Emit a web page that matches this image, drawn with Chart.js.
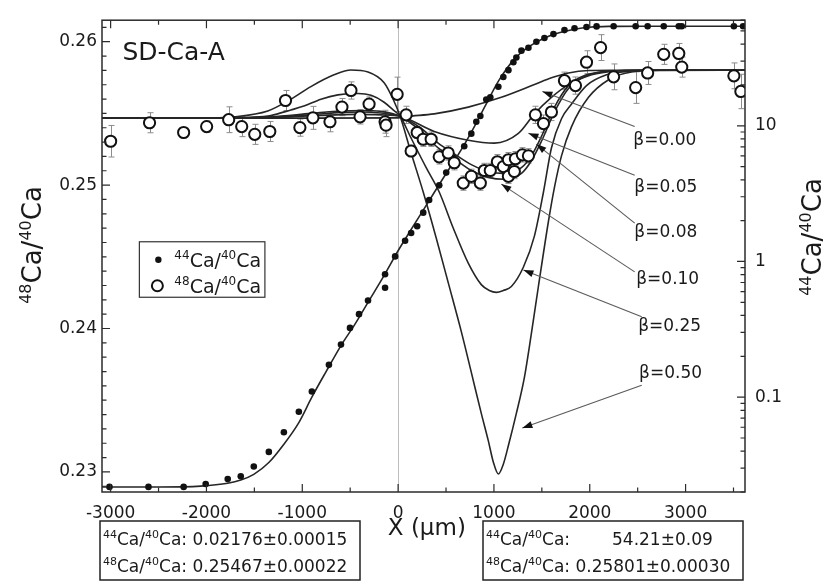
<!DOCTYPE html>
<html>
<head>
<meta charset="utf-8">
<script src="https://cdn.jsdelivr.net/npm/chart.js@4.4.0/dist/chart.umd.min.js"></script>
<style>
  html, body { margin: 0; padding: 0; background: #fff; }
  canvas { display: block; }
</style>
</head>
<body>
<canvas id="c" width="833" height="581"></canvas>
<script>
// tick labels
const xTicks = [-3000, -2000, -1000, 0, 1000, 2000, 3000];
const leftTicks = [0.23, 0.24, 0.25, 0.26];
const rightTicks = [0.1, 1, 10];

// 48Ca/40Ca measurements (open circles, left axis)
const ca48X = [-3000, -2594, -2238, -1998, -1768, -1632, -1496, -1339, -1175, -1025,
  -889, -711, -586, -492, -397, -303, -136, -126, -10, 84,
  136, 199, 262, 345, 429, 523, 586, 680, 764, 858,
  900, 962, 1036, 1098, 1151, 1151, 1213, 1224, 1297, 1360,
  1433, 1517, 1600, 1736, 1851, 1966, 2113, 2249, 2479, 2604,
  2772, 2929, 2960, 3504, 3577];
const ca48Y = [0.25306, 0.25435, 0.25367, 0.25408, 0.25456, 0.25408, 0.25354, 0.25374, 0.2559, 0.25401,
  0.25469, 0.25442, 0.25544, 0.2566, 0.25476, 0.25565, 0.25442, 0.25418, 0.25633, 0.2549,
  0.25238, 0.25367, 0.2532, 0.2532, 0.25197, 0.25224, 0.25156, 0.25014, 0.25061, 0.25014,
  0.25102, 0.25102, 0.25163, 0.25129, 0.25177, 0.25061, 0.25095, 0.25184, 0.25211, 0.25204,
  0.2549, 0.25429, 0.2551, 0.25728, 0.25694, 0.25857, 0.25959, 0.25755, 0.2568, 0.25782,
  0.25912, 0.25918, 0.25823, 0.25762, 0.25653];
const ca48Err = [0.0011, 0.0007, 0.0003, 0.0004, 0.0009, 0.0007, 0.0007, 0.0007, 0.0007, 0.0006,
  0.0008, 0.0007, 0.0006, 0.0006, 0.0005, 0.0005, 0.0008, 0.0008, 0.0012, 0.0006,
  0.0004, 0.0004, 0.0005, 0.0005, 0.0005, 0.0005, 0.0005, 0.0005, 0.0005, 0.0005,
  0.0005, 0.0005, 0.0005, 0.0005, 0.0005, 0.0005, 0.0005, 0.0005, 0.0005, 0.0005,
  0.0006, 0.0006, 0.0006, 0.0006, 0.0006, 0.0008, 0.0009, 0.0009, 0.0011, 0.0008,
  0.0007, 0.0007, 0.0007, 0.0009, 0.0012];

// 44Ca/40Ca measurements (filled dots, right log axis)
const ca44X = [-3012, -2605, -2238, -2008, -1778, -1642, -1506, -1349, -1192, -1036,
  -900, -722, -596, -502, -408, -314, -136, -136, -31, 73,
  136, 199, 262, 324, 429, 502, 575, 690, 764, 816,
  858, 920, 962, 1046, 1098, 1151, 1203, 1234, 1287, 1360,
  1443, 1527, 1621, 1736, 1841, 1966, 2071, 2249, 2479, 2604,
  2772, 2929, 2960, 3504, 3600];
const ca44Y = [0.0218, 0.0218, 0.0218, 0.0229, 0.0249, 0.0261, 0.0308, 0.0395, 0.0551, 0.078,
  0.11, 0.173, 0.244, 0.324, 0.409, 0.516, 0.805, 0.64, 1.09, 1.42,
  1.62, 1.82, 2.29, 2.84, 3.64, 4.52, 5.8, 7.06, 8.75, 10.7,
  11.8, 15.6, 16.2, 19.4, 22.9, 25.7, 29.4, 31.9, 35.8, 37.6,
  41.6, 44.4, 47.4, 50.7, 52.4, 53.5, 54, 54.2, 54.2, 54.2,
  54.2, 54.2, 54.2, 54.2, 54.2];

// fitted 44Ca/40Ca profile
const fit44X = [-3090, -2500, -2060, -1778, -1642, -1506, -1349, -1192, -1036, -900,
  -750, -596, -450, -314, -150, 0, 136, 272, 450, 680,
  800, 920, 1050, 1213, 1370, 1527, 1680, 1841, 2000, 2200,
  2600, 3620];
const fit44Y = [0.02176, 0.02176, 0.0221, 0.0232, 0.0245, 0.027, 0.033, 0.045, 0.065, 0.1,
  0.155, 0.24, 0.345, 0.5, 0.78, 1.2, 1.72, 2.45, 3.9, 7.06,
  10.0, 14.5, 21.5, 31, 38.5, 44.4, 48.5, 51.5, 53.3, 54.0,
  54.21, 54.21];

// model 48Ca/40Ca profiles for each beta
const beta00X = [-3090, -1000, 0, 84, 377, 732, 1077, 1423, 1600, 1778, 1987, 2228, 3620];
const beta00Y = [0.25467, 0.25467, 0.25469, 0.25478, 0.25497, 0.25544, 0.25612, 0.25701, 0.25748, 0.25782, 0.25799, 0.25801, 0.25801];

const beta05X = [-3090, -1747, -1224, -805, -450, -178, 21, 377, 732, 1004, 1255, 1423, 1600, 1778, 2019, 2280, 2542, 3620];
const beta05Y = [0.25467, 0.25467, 0.25473, 0.25486, 0.25493, 0.2549, 0.2548, 0.25374, 0.25313, 0.25293, 0.25361, 0.25497, 0.25612, 0.25701, 0.25769, 0.25796, 0.25801, 0.25801];

const beta08X = [-3090, -1747, -1328, -910, -596, -387, -178, -52, 21, 241, 418, 586, 764, 941, 1109, 1287, 1391, 1496, 1632, 1778, 1966, 2228, 2542, 3620];
const beta08Y = [0.25467, 0.25467, 0.25473, 0.2549, 0.25507, 0.2551, 0.25503, 0.2549, 0.2548, 0.25395, 0.25293, 0.25218, 0.25143, 0.25095, 0.25082, 0.25122, 0.25204, 0.2534, 0.25544, 0.25694, 0.25769, 0.25796, 0.25801, 0.25801];

const beta10X = [-3090, -1747, -1328, -910, -596, -387, -178, -52, 21, 241, 418, 586, 764, 941, 1109, 1287, 1391, 1496, 1632, 1778, 1966, 2228, 2542, 3620];
const beta10Y = [0.25467, 0.25468, 0.25476, 0.255, 0.25517, 0.2552, 0.25514, 0.25497, 0.2548, 0.25374, 0.25259, 0.25184, 0.25102, 0.25054, 0.25041, 0.25082, 0.2517, 0.25306, 0.2551, 0.25673, 0.25762, 0.25796, 0.25801, 0.25801];

const beta25X = [-3090, -1851, -1538, -1328, -1119, -983, -805, -628, -418, -282,
  -146, -52, 21, 136, 293, 429, 575, 732, 868, 952,
  1025, 1098, 1182, 1308, 1423, 1517, 1600, 1705, 1810, 1966,
  2176, 2437, 2751, 3620];
const beta25Y = [0.25467, 0.25467, 0.25473, 0.25486, 0.25524, 0.25551, 0.25599, 0.25629, 0.25639, 0.25626,
  0.25578, 0.25524, 0.2548, 0.25327, 0.25122, 0.24952, 0.24701, 0.24456, 0.24306, 0.24265,
  0.24252, 0.24265, 0.24293, 0.24429, 0.24646, 0.24952, 0.25259, 0.25463, 0.25565, 0.25694,
  0.25769, 0.25796, 0.25801, 0.25801];

const beta50X = [-3090, -2061, -1715, -1360, -1119, -910, -669, -492, -314, -146,
  -52, 21, 136, 262, 397, 523, 659, 764, 868, 941,
  994, 1046, 1098, 1151, 1234, 1318, 1391, 1464, 1569, 1632,
  1705, 1810, 1987, 2197, 2437, 2751, 3620];
const beta50Y = [0.25467, 0.25467, 0.25476, 0.25517, 0.25599, 0.25687, 0.25769, 0.25803, 0.25789, 0.25714,
  0.25599, 0.2548, 0.25224, 0.24952, 0.24633, 0.2432, 0.2398, 0.23694, 0.23408, 0.23218,
  0.23068, 0.22986, 0.23054, 0.23184, 0.23408, 0.2366, 0.23966, 0.24293, 0.24748, 0.24986,
  0.25204, 0.25408, 0.25612, 0.25735, 0.25789, 0.25799, 0.25801];

const betaLabels = ['β=0.00', 'β=0.05', 'β=0.08', 'β=0.10', 'β=0.25', 'β=0.50'];

// annotation placement, in data units of the x and left y axes
const betaNotes = [
  { text: [2455, 0.25313], from: [2469, 0.25408], tip: [1506, 0.25653] },
  { text: [2465, 0.24986], from: [2469, 0.25068], tip: [1360, 0.25361] },
  { text: [2465, 0.24667], from: [2469, 0.24735], tip: [1443, 0.25286] },
  { text: [2485, 0.2434], from: [2469, 0.24395], tip: [1077, 0.25007] },
  { text: [2505, 0.24014], from: [2542, 0.24082], tip: [1308, 0.24408] },
  { text: [2515, 0.23687], from: [2542, 0.23605], tip: [1297, 0.23306] },
];

const FONT = 'DejaVu Sans';

function pts(xs, ys) {
  return xs.map((v, i) => ({ x: v, y: ys[i] }));
}

function curve(xs, ys, axis) {
  return {
    data: pts(xs, ys),
    yAxisID: axis,
    showLine: true,
    pointRadius: 0,
    borderColor: '#262626',
    borderWidth: 1.6,
    cubicInterpolationMode: 'monotone',
  };
}

// text with superscript parts ('^44')
function richWidth(ctx, parts, size, sup) {
  let w = 0;
  parts.forEach(p => {
    const s = p[0] === '^';
    ctx.font = (s ? sup : size) + 'px "' + FONT + '"';
    w += ctx.measureText(s ? p.slice(1) : p).width;
  });
  return w;
}

function drawRich(ctx, parts, x, y, size, sup) {
  ctx.textAlign = 'left';
  ctx.textBaseline = 'alphabetic';
  let cx = x;
  parts.forEach(p => {
    const s = p[0] === '^';
    const t = s ? p.slice(1) : p;
    ctx.font = (s ? sup : size) + 'px "' + FONT + '"';
    ctx.fillText(t, cx, s ? y - size * 0.4 : y);
    cx += ctx.measureText(t).width;
  });
}

function arrow(ctx, x1, y1, x2, y2) {
  ctx.strokeStyle = '#5a5a5a';
  ctx.lineWidth = 1.1;
  ctx.beginPath();
  ctx.moveTo(x1, y1);
  ctx.lineTo(x2, y2);
  ctx.stroke();
  const a = Math.atan2(y2 - y1, x2 - x1);
  const L = 10, W = 3.5;
  const bx = x2 - L * Math.cos(a), by = y2 - L * Math.sin(a);
  ctx.fillStyle = '#111';
  ctx.beginPath();
  ctx.moveTo(x2, y2);
  ctx.lineTo(bx + W * Math.sin(a), by - W * Math.cos(a));
  ctx.lineTo(bx - W * Math.sin(a), by + W * Math.cos(a));
  ctx.closePath();
  ctx.fill();
}

const decor = {
  id: 'decor',
  beforeDatasetsDraw(chart) {
    const { ctx, chartArea: a, scales } = chart;
    const x = scales.x, y = scales.y;
    ctx.save();
    // vertical line at x = 0
    const x0 = Math.round(x.getPixelForValue(0)) + 0.5;
    ctx.strokeStyle = '#bdbdbd';
    ctx.lineWidth = 1;
    ctx.beginPath();
    ctx.moveTo(x0, a.top);
    ctx.lineTo(x0, a.bottom);
    ctx.stroke();
    // error bars
    ctx.strokeStyle = '#8c8c8c';
    ctx.lineWidth = 1;
    ca48X.forEach((xv, i) => {
      const px = Math.round(x.getPixelForValue(xv)) + 0.5;
      const t = y.getPixelForValue(ca48Y[i] + ca48Err[i]);
      const b = y.getPixelForValue(ca48Y[i] - ca48Err[i]);
      ctx.beginPath();
      ctx.moveTo(px, t); ctx.lineTo(px, b);
      ctx.moveTo(px - 3, t); ctx.lineTo(px + 3, t);
      ctx.moveTo(px - 3, b); ctx.lineTo(px + 3, b);
      ctx.stroke();
    });
    ctx.restore();
  },
  afterDraw(chart) {
    const { ctx, chartArea: a, scales } = chart;
    const x = scales.x, y = scales.y, y2 = scales.y2;
    ctx.save();

    // frame
    ctx.strokeStyle = '#2b2b2b';
    ctx.lineWidth = 1.5;
    ctx.strokeRect(a.left, a.top, a.right - a.left, a.bottom - a.top);

    // inward tick marks
    ctx.lineWidth = 1.2;
    ctx.beginPath();
    for (let v = -3000; v <= 3500; v += 500) {
      const px = x.getPixelForValue(v);
      const L = v % 1000 === 0 ? 8 : 4.5;
      ctx.moveTo(px, a.bottom); ctx.lineTo(px, a.bottom - L);
      ctx.moveTo(px, a.top); ctx.lineTo(px, a.top + L);
    }
    for (let k = 229; k <= 261; k++) {
      const py = y.getPixelForValue(k / 1000);
      const L = k % 10 === 0 ? 8 : 4.5;
      ctx.moveTo(a.left, py); ctx.lineTo(a.left + L, py);
    }
    for (let e = -2; e <= 1; e++) {
      for (let m = 1; m <= 9; m++) {
        const v = m * Math.pow(10, e);
        if (v < 0.02 || v > 60) continue;
        const py = y2.getPixelForValue(v);
        const L = m === 1 ? 8 : 4.5;
        ctx.moveTo(a.right, py); ctx.lineTo(a.right - L, py);
      }
    }
    ctx.stroke();

    // sample name
    ctx.fillStyle = '#1a1a1a';
    ctx.font = '25px "' + FONT + '"';
    ctx.textAlign = 'left';
    ctx.textBaseline = 'middle';
    ctx.fillText('SD-Ca-A', x.getPixelForValue(-2877), y.getPixelForValue(0.25918));

    // beta labels and arrows
    betaNotes.forEach((n, i) => {
      arrow(ctx, x.getPixelForValue(n.from[0]), y.getPixelForValue(n.from[1]),
        x.getPixelForValue(n.tip[0]), y.getPixelForValue(n.tip[1]));
      ctx.fillStyle = '#1a1a1a';
      ctx.font = '17px "' + FONT + '"';
      ctx.textAlign = 'left';
      ctx.textBaseline = 'middle';
      ctx.fillText(betaLabels[i], x.getPixelForValue(n.text[0]), y.getPixelForValue(n.text[1]));
    });

    // legend box
    const lx1 = x.getPixelForValue(-2700), lx2 = x.getPixelForValue(-1390);
    const ly1 = y.getPixelForValue(0.24605), ly2 = y.getPixelForValue(0.24218);
    ctx.strokeStyle = '#333';
    ctx.lineWidth = 1.2;
    ctx.strokeRect(lx1, ly1, lx2 - lx1, ly2 - ly1);
    const r1 = ly1 + 18, r2 = ly1 + 44;
    ctx.fillStyle = '#111';
    ctx.beginPath(); ctx.arc(lx1 + 19, r1, 3.2, 0, Math.PI * 2); ctx.fill();
    ctx.strokeStyle = '#111'; ctx.lineWidth = 2;
    ctx.beginPath(); ctx.arc(lx1 + 18, r2, 5.5, 0, Math.PI * 2); ctx.stroke();
    ctx.fillStyle = '#1a1a1a';
    drawRich(ctx, ['^44', 'Ca/', '^40', 'Ca'], lx1 + 35, r1 + 7, 19, 12);
    drawRich(ctx, ['^48', 'Ca/', '^40', 'Ca'], lx1 + 35, r2 + 7, 19, 12);

    // axis titles
    ctx.font = '23px "' + FONT + '"';
    ctx.textAlign = 'center';
    ctx.textBaseline = 'middle';
    ctx.fillText('X (μm)', x.getPixelForValue(300), a.bottom + 37);

    const yt = ['^48', 'Ca/', '^40', 'Ca'];
    ctx.save();
    ctx.translate(32, 245);
    ctx.rotate(-Math.PI / 2);
    drawRich(ctx, yt, -richWidth(ctx, yt, 26, 16) / 2, 9, 26, 16);
    ctx.restore();

    const yt2 = ['^44', 'Ca/', '^40', 'Ca'];
    ctx.save();
    ctx.translate(812, 237);
    ctx.rotate(-Math.PI / 2);
    drawRich(ctx, yt2, -richWidth(ctx, yt2, 26, 16) / 2, 9, 26, 16);
    ctx.restore();

    // result boxes under the axis
    const bTop = a.bottom + 29, bH = 59;
    ctx.strokeStyle = '#222';
    ctx.lineWidth = 1.5;
    ctx.strokeRect(100, bTop, 260, bH);
    ctx.strokeRect(483, bTop, 260, bH);
    ctx.fillStyle = '#1a1a1a';
    drawRich(ctx, ['^44', 'Ca/', '^40', 'Ca: 0.02176±0.00015'], 103, bTop + 24, 17, 11);
    drawRich(ctx, ['^48', 'Ca/', '^40', 'Ca: 0.25467±0.00022'], 103, bTop + 51, 17, 11);
    drawRich(ctx, ['^44', 'Ca/', '^40', 'Ca:'], 486, bTop + 24, 17, 11);
    ctx.font = '17px "' + FONT + '"';
    ctx.fillText('54.21±0.09', 612, bTop + 24);
    drawRich(ctx, ['^48', 'Ca/', '^40', 'Ca: 0.25801±0.00030'], 486, bTop + 51, 17, 11);

    ctx.restore();
  }
};

const tickFont = { family: FONT, size: 17 };

new Chart(document.getElementById('c'), {
  type: 'scatter',
  data: {
    datasets: [
      {
        data: pts(ca48X, ca48Y), yAxisID: 'y',
        pointRadius: 5.6, pointBorderWidth: 2,
        pointBackgroundColor: '#fff', pointBorderColor: '#111',
      },
      {
        data: pts(ca44X, ca44Y), yAxisID: 'y2',
        pointRadius: 3.3, pointBorderWidth: 0,
        pointBackgroundColor: '#111', pointBorderColor: '#111',
      },
      curve(fit44X, fit44Y, 'y2'),
      curve(beta00X, beta00Y, 'y'),
      curve(beta05X, beta05Y, 'y'),
      curve(beta08X, beta08Y, 'y'),
      curve(beta10X, beta10Y, 'y'),
      curve(beta25X, beta25Y, 'y'),
      curve(beta50X, beta50Y, 'y'),
    ]
  },
  options: {
    responsive: false,
    devicePixelRatio: 1,
    animation: false,
    events: [],
    layout: { padding: { top: 9, left: 0, right: 0, bottom: 0 } },
    plugins: { legend: { display: false }, tooltip: { enabled: false } },
    scales: {
      x: {
        type: 'linear', position: 'bottom', min: -3090, max: 3620,
        grid: { display: false, drawTicks: false },
        border: { display: false },
        afterBuildTicks: s => { s.ticks = xTicks.map(v => ({ value: v })); },
        afterFit: s => { s.height = 89; },
        ticks: { font: tickFont, color: '#1a1a1a', padding: 11, maxRotation: 0, autoSkip: false,
          callback: v => String(v) }
      },
      y: {
        type: 'linear', position: 'left', min: 0.2286, max: 0.2615,
        grid: { display: false, drawTicks: false },
        border: { display: false },
        afterBuildTicks: s => { s.ticks = leftTicks.map(v => ({ value: v })); },
        afterFit: s => { s.width = 102; },
        ticks: { font: tickFont, color: '#1a1a1a', padding: 5, autoSkip: false,
          callback: v => v.toFixed(2) }
      },
      y2: {
        type: 'logarithmic', position: 'right', min: 0.02, max: 60,
        grid: { display: false, drawTicks: false },
        border: { display: false },
        afterBuildTicks: s => { s.ticks = rightTicks.map(v => ({ value: v })); },
        afterFit: s => { s.width = 88; },
        ticks: { font: tickFont, color: '#1a1a1a', padding: 10, autoSkip: false,
          callback: v => String(v) }
      }
    }
  },
  plugins: [decor]
});
</script>
</body>
</html>
